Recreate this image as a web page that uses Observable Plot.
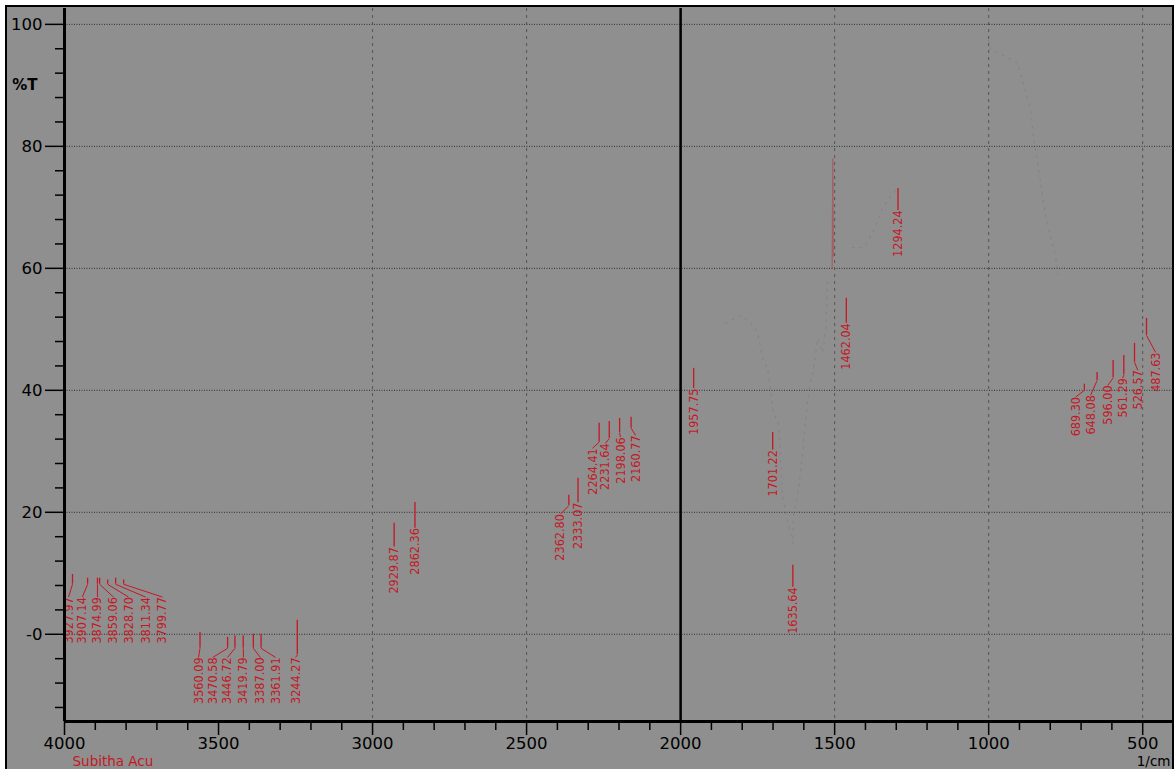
<!DOCTYPE html>
<html><head><meta charset="utf-8">
<script src="https://cdn.jsdelivr.net/npm/d3@7"></script>
<script src="https://cdn.jsdelivr.net/npm/@observablehq/plot@0.6"></script>
<style>
html,body{margin:0;padding:0;background:#fff;width:1174px;height:769px;overflow:hidden}
#frame{position:absolute;left:5px;top:5px;width:1165px;height:800px;background:#8f8f8f;border:2px solid #000;box-sizing:content-box}
#chart{position:absolute;left:0;top:0}
</style></head><body><div id="frame"></div><div id="chart"></div>
<script>
// ---- data ----
const peakLabels = ["3927.97","3907.14","3874.99","3859.06","3828.70","3811.34","3799.77",
  "3560.09","3470.58","3446.72","3419.79","3387.00","3361.91","3244.27",
  "2929.87","2862.36",
  "2362.80","2333.07","2264.41","2231.64","2198.06","2160.77",
  "1957.75","1701.22","1635.64","1462.04","1294.24",
  "689.30","648.08","596.00","561.29","526.57","487.63"];
const markerWn = [3974,3925,3893,3886,3860,3834,3808,
  3560.09,3470.58,3446.72,3419.79,3387.00,3361.91,3244.27,
  2929.87,2862.36,
  2362.80,2333.07,2264.41,2231.64,2198.06,2160.77,
  1957.75,1701.22,1635.64,1462.04,1294.24,
  689.30,648.08,596.00,561.29,526.57,487.63];
const markerTop = [9.8,9.2,9.2,9.2,8.9,9.2,8.9,
  0.3,-0.5,-0.3,-0.3,0,0,2.3,
  18.2,21.6,
  22.8,25.6,34.6,34.9,35.4,35.6,
  43.6,33.1,11.3,55.1,73.1,
  41,42.9,44.9,45.7,47.7,51.8];
const markerBottom = [8.2,8.2,8.2,8.2,8.2,8.2,8.2,
  -2.3,-2.3,-2.3,-2.3,-2.3,-2.3,-3.4,
  14.3,17.4,
  21.1,21.6,31.5,32.1,33,33.8,
  40.3,30.2,7.7,51,69.5,
  40,41.6,42,42.5,44.6,49];
const labelWn = [3987,3942,3893,3841,3792,3737,3682,
  3565,3519,3471,3419,3364,3315,3250,
  2929.87,2862.36,
  2390,2334,2286,2244,2195,2146,
  1957.75,1701.22,1635.64,1462.04,1294.24,
  717.5,669,613.6,565,516,458];
const labelTop = [6.1,6.1,6.1,6.1,6.1,6.1,6.1,
  -3.8,-3.8,-3.8,-3.8,-3.8,-3.8,-3.8,
  14.3,17.4,
  19.7,21.6,30.5,31.3,32.3,32.6,
  40.3,30.2,7.7,51,69.5,
  38.9,39.2,40.8,42,43.3,46.2];

// faint visible bits of the spectrum trace
const traceSeg = ["a","a","a","a","a","a","a","a","a","a","a","a","a","a","a","a","a","a","a",
  "b","b","b","b","b","b","b","b","b",
  "c","c","c","c","c"];
const traceWn = [1854,1805,1773,1750,1734,1718,1698,1682,1669,1636,1633,1617,1604,1584,1571,1555,1539,1529,1523,
  1000,996,906,864,853,840,815,783,775,
  1442,1406,1375,1344,1300];
const traceT = [51,52.3,51.1,49.5,45.4,43.6,36.2,34.6,22.5,14.9,19.8,23.6,29.7,40,42.8,48.5,46.2,49.8,58,
  97.4,96,93.7,86,81,77,68.4,62,59,
  63.4,63.4,66,70,73];
const spikeWn = [1508,1506,1504];
const spikeT = [60,78,62];

const yMajor = [100,80,60,40,20,0];
const yMinor = d3.range(-12,101,4).filter(v => v % 20 !== 0);
const xMajor = [4000,3500,3000,2500,2000,1500,1000,500];
const xMinor = d3.range(500,4001,100).filter(v => v % 500 !== 0);
const gridX = [3000,2500,1500,1000,500];
const gridY = [100,80,60,40,20,0];
const caption = "Subitha Acu";
const unitLabel = "1/cm";
const yLabel = "%T";

// ---- build tables ----
const peaks = peakLabels.map((label,i) => ({label, mw:markerWn[i], mt:markerTop[i], mb:markerBottom[i], lw:labelWn[i], lt:labelTop[i]}));
const trace = traceWn.map((w,i) => ({w, t:traceT[i], s:traceSeg[i]}));
const spike = spikeWn.map((w,i) => ({w, t:spikeT[i]}));

const RED = "#c41824";
const YMIN = -14.3, YMAX = 102.6;

const chart = Plot.plot({
  width:1174, height:769,
  marginLeft:64, marginRight:1, marginTop:8, marginBottom:48,
  style:{background:"transparent", fontFamily:"'DejaVu Sans', sans-serif", color:"#000"},
  x:{domain:[4000,400], label:null},
  y:{domain:[YMIN,YMAX], label:null},
  marks:[
    Plot.ruleY(gridY,{stroke:"#2e2e2e", strokeDasharray:"1,1.5", strokeWidth:1}),
    Plot.ruleX(gridX,{stroke:"#555", strokeDasharray:"3,4", strokeWidth:1}),
    Plot.line(trace,{x:"w", y:"t", z:"s", stroke:"#777", strokeOpacity:0.45, strokeDasharray:"1.5,6", strokeWidth:1.3}),
    Plot.line(spike,{x:"w", y:"t", stroke:RED, strokeOpacity:0.4, strokeWidth:1.2}),
    Plot.ruleX(peaks,{x:"mw", y1:"mt", y2:"mb", stroke:RED, strokeWidth:1.3}),
    Plot.link(peaks,{x1:"mw", y1:"mb", x2:"lw", y2:"lt", stroke:RED, strokeWidth:1}),
    Plot.text(peaks,{x:"lw", y:"lt", text:"label", rotate:-90, textAnchor:"end", fill:RED,
      fontSize:12.5, fontFamily:"'Liberation Sans Narrow','DejaVu Sans Condensed',sans-serif", clip:true}),
    Plot.ruleX([2000],{stroke:"#000", strokeWidth:2.5}),
    Plot.axisY({ticks:yMajor, tickSize:19, tickPadding:3, fontSize:16.5, strokeWidth:1.5,
      tickFormat: d => d === 0 ? "-0" : String(d), label:null}),
    Plot.axisY({ticks:yMinor, tickSize:9, strokeWidth:1.5, tickFormat:() => "", label:null}),
    Plot.axisY({ticks:[90], tickSize:0, tickPadding:27, fontSize:15, fontWeight:"bold", tickFormat:() => yLabel, label:null}),
    Plot.axisX({ticks:xMajor, tickSize:14, tickPadding:2, fontSize:16.5, strokeWidth:1.5, tickFormat: d => String(d), label:null}),
    Plot.axisX({ticks:xMinor, tickSize:9, strokeWidth:1.5, tickFormat:() => "", label:null}),
    Plot.ruleX([4000],{stroke:"#000", strokeWidth:3}),
    Plot.ruleY([YMIN],{stroke:"#000", strokeWidth:3}),
    Plot.text([caption],{frameAnchor:"bottom-left", dx:8, dy:44, lineAnchor:"bottom", textAnchor:"start", fill:RED, fontSize:13.5}),
    Plot.text([unitLabel],{frameAnchor:"bottom-right", dx:-3, dy:44, lineAnchor:"bottom", textAnchor:"end", fill:"#000", fontSize:13.5})
  ]
});
document.getElementById("chart").appendChild(chart);
</script>
</body></html>
